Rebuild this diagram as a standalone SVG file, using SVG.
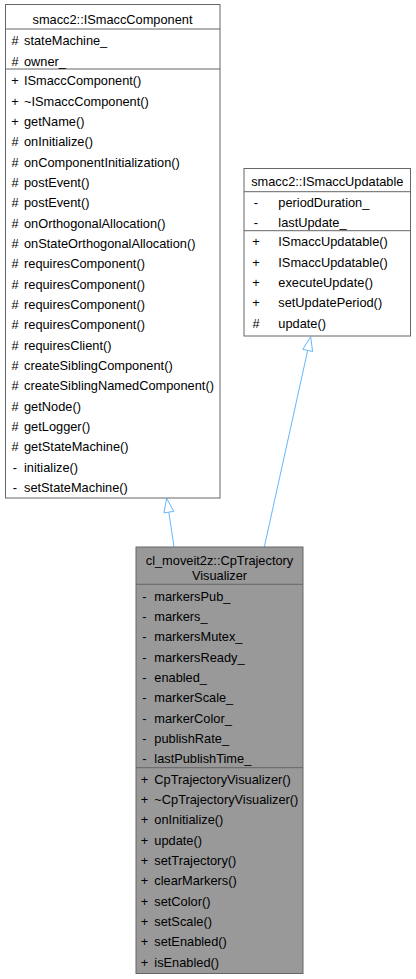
<svg xmlns="http://www.w3.org/2000/svg" width="416" height="979" viewBox="0 0 416 979">
<style>
text{font-family:"Liberation Sans",Arial,Helvetica,sans-serif;font-size:12.8px;fill:#000}
.t{text-anchor:middle}
.s{text-anchor:middle}
.box{fill:#fff;stroke:#666;stroke-width:1}
.cur{fill:#999;stroke:#666;stroke-width:1}
.sep{stroke:#666;stroke-width:1}
.edge{stroke:#63b8ff;stroke-width:1;fill:none}
.head{stroke:#63b8ff;stroke-width:1;fill:#fff}
</style>
<rect width="416" height="979" fill="#fff"/>
<g id="connectors">
<line class="edge" x1="174" y1="547" x2="168.8" y2="512.2"/>
<polygon class="head" points="166.7,498.3 173.7,511.4 163.9,512.9"/>
<line class="edge" x1="264.3" y1="547" x2="307.7" y2="350.4"/>
<polygon class="head" points="310.7,336.7 312.6,351.5 302.8,349.3"/>
</g>
<g id="ISmaccComponent">
<rect class="box" x="5.5" y="4.5" width="214.5" height="493.5"/>
<line class="sep" x1="5.5" y1="29" x2="220" y2="29"/>
<line class="sep" x1="5.5" y1="69" x2="220" y2="69"/>
<text class="t" x="112.5" y="23.5">smacc2::ISmaccComponent</text>
<g class="s">
<text x="15" y="45.4">#</text>
<text x="15" y="65.7">#</text>
<text x="15" y="85.2">+</text>
<text x="15" y="105.5">+</text>
<text x="15" y="125.9">+</text>
<text x="15" y="146.2">#</text>
<text x="15" y="166.5">#</text>
<text x="15" y="186.9">#</text>
<text x="15" y="207.2">#</text>
<text x="15" y="227.5">#</text>
<text x="15" y="247.8">#</text>
<text x="15" y="268.2">#</text>
<text x="15" y="288.5">#</text>
<text x="15" y="308.8">#</text>
<text x="15" y="329.2">#</text>
<text x="15" y="349.5">#</text>
<text x="15" y="369.8">#</text>
<text x="15" y="390.1">#</text>
<text x="15" y="410.5">#</text>
<text x="15" y="430.8">#</text>
<text x="15" y="451.1">#</text>
<text x="15" y="471.5">-</text>
<text x="15" y="491.8">-</text>
</g>
<text x="24" y="45.4">stateMachine_</text>
<text x="24" y="65.7">owner_</text>
<text x="24" y="85.2">ISmaccComponent()</text>
<text x="24" y="105.5">~ISmaccComponent()</text>
<text x="24" y="125.9">getName()</text>
<text x="24" y="146.2">onInitialize()</text>
<text x="24" y="166.5">onComponentInitialization()</text>
<text x="24" y="186.9">postEvent()</text>
<text x="24" y="207.2">postEvent()</text>
<text x="24" y="227.5">onOrthogonalAllocation()</text>
<text x="24" y="247.8">onStateOrthogonalAllocation()</text>
<text x="24" y="268.2">requiresComponent()</text>
<text x="24" y="288.5">requiresComponent()</text>
<text x="24" y="308.8">requiresComponent()</text>
<text x="24" y="329.2">requiresComponent()</text>
<text x="24" y="349.5">requiresClient()</text>
<text x="24" y="369.8">createSiblingComponent()</text>
<text x="24" y="390.1">createSiblingNamedComponent()</text>
<text x="24" y="410.5">getNode()</text>
<text x="24" y="430.8">getLogger()</text>
<text x="24" y="451.1">getStateMachine()</text>
<text x="24" y="471.5">initialize()</text>
<text x="24" y="491.8">setStateMachine()</text>
</g>
<g id="ISmaccUpdatable">
<rect class="box" x="244" y="168.5" width="166.5" height="167.5"/>
<line class="sep" x1="244" y1="191.7" x2="410.5" y2="191.7"/>
<line class="sep" x1="244" y1="230.7" x2="410.5" y2="230.7"/>
<text class="t" x="327.3" y="186.2">smacc2::ISmaccUpdatable</text>
<g class="s">
<text x="256" y="207.2">-</text>
<text x="256" y="227.2">-</text>
<text x="256" y="246.2">+</text>
<text x="256" y="266.5">+</text>
<text x="256" y="286.8">+</text>
<text x="256" y="307.2">+</text>
<text x="256" y="327.5">#</text>
</g>
<text x="278.3" y="207.2">periodDuration_</text>
<text x="278.3" y="227.2">lastUpdate_</text>
<text x="278.3" y="246.2">ISmaccUpdatable()</text>
<text x="278.3" y="266.5">ISmaccUpdatable()</text>
<text x="278.3" y="286.8">executeUpdate()</text>
<text x="278.3" y="307.2">setUpdatePeriod()</text>
<text x="278.3" y="327.5">update()</text>
</g>
<g id="CpTrajectoryVisualizer">
<rect class="cur" x="136" y="547" width="167" height="426.5"/>
<line class="sep" x1="136" y1="584.3" x2="303" y2="584.3"/>
<line class="sep" x1="136" y1="767.7" x2="303" y2="767.7"/>
<text class="t" x="219.5" y="565.2">cl_moveit2z::CpTrajectory</text>
<text class="t" x="219.5" y="579.8">Visualizer</text>
<g class="s">
<text x="144.5" y="600.5">-</text>
<text x="144.5" y="620.8">-</text>
<text x="144.5" y="641.2">-</text>
<text x="144.5" y="661.5">-</text>
<text x="144.5" y="681.8">-</text>
<text x="144.5" y="702.2">-</text>
<text x="144.5" y="722.5">-</text>
<text x="144.5" y="742.8">-</text>
<text x="144.5" y="763.2">-</text>
<text x="144.5" y="783.5">+</text>
<text x="144.5" y="803.8">+</text>
<text x="144.5" y="824.2">+</text>
<text x="144.5" y="844.5">+</text>
<text x="144.5" y="864.8">+</text>
<text x="144.5" y="885.2">+</text>
<text x="144.5" y="905.5">+</text>
<text x="144.5" y="925.8">+</text>
<text x="144.5" y="946.2">+</text>
<text x="144.5" y="966.5">+</text>
</g>
<text x="154.3" y="600.5">markersPub_</text>
<text x="154.3" y="620.8">markers_</text>
<text x="154.3" y="641.2">markersMutex_</text>
<text x="154.3" y="661.5">markersReady_</text>
<text x="154.3" y="681.8">enabled_</text>
<text x="154.3" y="702.2">markerScale_</text>
<text x="154.3" y="722.5">markerColor_</text>
<text x="154.3" y="742.8">publishRate_</text>
<text x="154.3" y="763.2">lastPublishTime_</text>
<text x="154.3" y="783.5">CpTrajectoryVisualizer()</text>
<text x="154.3" y="803.8">~CpTrajectoryVisualizer()</text>
<text x="154.3" y="824.2">onInitialize()</text>
<text x="154.3" y="844.5">update()</text>
<text x="154.3" y="864.8">setTrajectory()</text>
<text x="154.3" y="885.2">clearMarkers()</text>
<text x="154.3" y="905.5">setColor()</text>
<text x="154.3" y="925.8">setScale()</text>
<text x="154.3" y="946.2">setEnabled()</text>
<text x="154.3" y="966.5">isEnabled()</text>
</g>
</svg>
